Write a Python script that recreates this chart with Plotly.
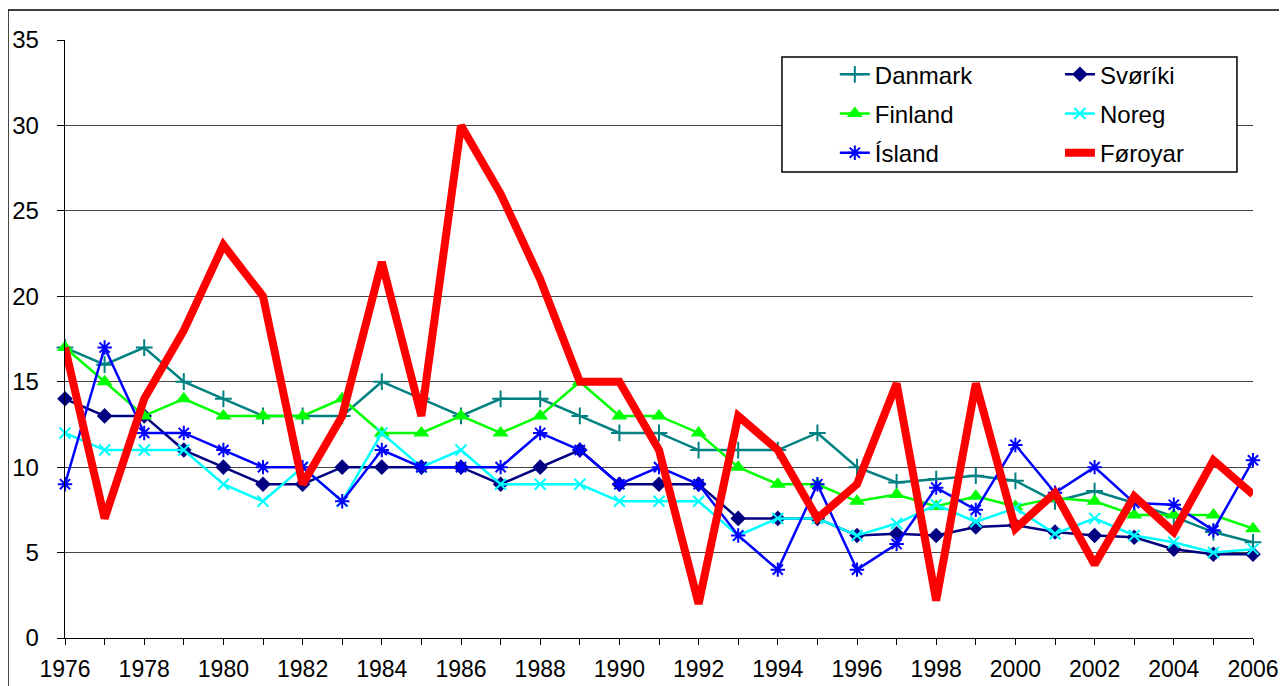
import plotly.graph_objects as go

years = list(range(1976, 2007))
tick_years = list(range(1976, 2007, 2))
tick_labels = [str(y) for y in tick_years]
y_ticks = [0, 5, 10, 15, 20, 25, 30, 35]

danmark = [17, 16, 17, 15, 14, 13, 13, 13, 15, 14, 13, 14, 14, 13, 12, 12, 11, 11, 11, 12,
           10, 9.1, 9.3, 9.5, 9.2, 8.0, 8.6, 7.9, 7.1, 6.2, 5.6]
sveriki = [14, 13, 13, 11, 10, 9, 9, 10, 10, 10, 10, 9, 10, 11, 9, 9, 9, 7, 7, 7,
           6.0, 6.1, 6.0, 6.5, 6.6, 6.2, 6.0, 5.9, 5.2, 4.9, 4.9]
finland = [17, 15, 13, 14, 13, 13, 13, 14, 12, 12, 13, 12, 13, 15, 13, 13, 12, 10, 9, 9,
           8, 8.4, 7.7, 8.3, 7.7, 8.2, 8.0, 7.2, 7.2, 7.2, 6.4]
noreg = [12, 11, 11, 11, 9, 8, 10, 8, 12, 10, 11, 9, 9, 9, 8, 8, 8, 6, 7, 7,
         6.0, 6.7, 7.8, 6.8, 7.6, 6.1, 7.0, 6.0, 5.6, 5.0, 5.2]
island = [9, 17, 12, 12, 11, 10, 10, 8, 11, 10, 10, 10, 12, 11, 9, 10, 9, 6, 4, 9,
          4, 5.5, 8.8, 7.5, 11.3, 8.5, 10.0, 7.9, 7.8, 6.3, 10.4]
foroyar = [17, 7, 14, 18, 23, 20, 9, 13, 22, 13, 30, 26, 21, 15, 15, 11, 2, 13, 11, 7,
           9, 14.9, 2.2, 14.9, 6.4, 8.5, 4.3, 8.3, 6.2, 10.4, 8.4]

FONT = "Liberation Sans, Arial, sans-serif"

series = [
    ("Danmark", danmark, "#008080", dict(symbol="cross-thin", size=12, line=dict(width=2, color="#008080")), 2.5, "legend"),
    ("Svøríki", sveriki, "#000080", dict(symbol="diamond", size=12, color="#000080"), 2.5, "legend2"),
    ("Finland", finland, "#00FF00", dict(symbol="triangle-up", size=14, color="#00FF00"), 2.5, "legend"),
    ("Noreg", noreg, "#00FFFF", dict(symbol="x-thin", size=11, line=dict(width=2, color="#00FFFF")), 2.5, "legend2"),
    ("Ísland", island, "#0000FF", dict(symbol="asterisk-open", size=12, line=dict(width=2, color="#0000FF")), 2.5, "legend"),
    ("Føroyar", foroyar, "#FF0000", None, 8, "legend2"),
]

fig = go.Figure()
for name, vals, col, mk, lw, lg in series:
    kw = dict(x=years, y=vals, name=name, line=dict(color=col, width=lw),
              legend=lg, legendgroup=name, cliponaxis=False)
    if mk is None:
        kw["mode"] = "lines"
    else:
        kw["mode"] = "lines+markers"
        kw["marker"] = mk
    fig.add_trace(go.Scatter(**kw))

# page body adds an 8px offset; plot area on screen: left 65, right 1253, top 40, bottom 638
fig.update_layout(
    width=1287, height=686,
    margin=dict(l=57, r=42, t=32, b=56, autoexpand=False),
    paper_bgcolor="white", plot_bgcolor="white",
    font=dict(family=FONT, size=24, color="black"),
    showlegend=True,
    legend=dict(x=0.648, y=0.9796, xanchor="left", yanchor="top",
                bgcolor="rgba(0,0,0,0)", borderwidth=0, tracegroupgap=5,
                font=dict(family=FONT, size=24, color="black")),
    legend2=dict(x=0.8375, y=0.9796, xanchor="left", yanchor="top",
                 bgcolor="rgba(0,0,0,0)", borderwidth=0, tracegroupgap=5,
                 font=dict(family=FONT, size=24, color="black")),
    xaxis=dict(range=[1976, 2006], tickmode="array", tickvals=tick_years, ticktext=tick_labels,
               ticks="outside", ticklen=6, tickcolor="black", tickwidth=1, ticklabelstandoff=4,
               showline=True, linecolor="black", linewidth=1, showgrid=False, zeroline=False,
               automargin=False,
               minor=dict(dtick=1, tick0=1976, ticks="outside", ticklen=6, tickcolor="black", showgrid=False),
               tickfont=dict(family=FONT, size=23, color="black")),
    yaxis=dict(range=[0, 35], tickmode="array", tickvals=y_ticks,
               ticktext=[f"{v}\u00a0\u00a0" for v in y_ticks],
               ticks="outside", ticklen=7, tickcolor="black",
               showline=True, linecolor="black", linewidth=1, automargin=False,
               showgrid=True, gridcolor="#444444", gridwidth=1, zeroline=False,
               tickfont=dict(family=FONT, size=24, color="black")),
    shapes=[
        dict(type="rect", xref="paper", yref="paper", x0=-0.048, x1=1.1, y0=-0.2, y1=1.050,
             line=dict(color="black", width=1.5), fillcolor="rgba(0,0,0,0)", layer="below"),
        dict(type="rect", xref="paper", yref="paper", x0=0.6035, x1=0.9865, y0=0.7793, y1=0.9716,
             line=dict(color="black", width=1.5), fillcolor="white", layer="above"),
    ],
)

fig.write_html("out.html")
